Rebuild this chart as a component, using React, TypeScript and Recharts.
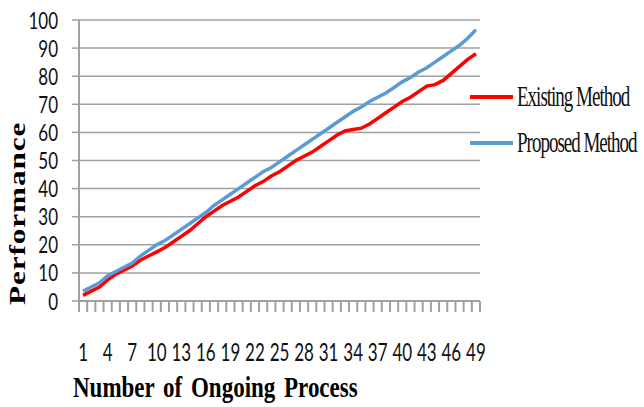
import { LineChart, Line, XAxis, YAxis, CartesianGrid, Legend, Label } from 'recharts'

// number of ongoing processes (x categories)
const PROCESS = [
  1, 2, 3, 4, 5, 6, 7, 8, 9, 10, 11, 12, 13, 14, 15, 16, 17, 18, 19, 20, 21, 22, 23, 24, 25,
  26, 27, 28, 29, 30, 31, 32, 33, 34, 35, 36, 37, 38, 39, 40, 41, 42, 43, 44, 45, 46, 47, 48, 49,
]

const EXISTING = [
  2, 3.5, 5, 7.5, 9.5, 11, 12.5, 14.5, 16, 17.5, 19, 21, 23, 25, 27.5, 30, 32, 34, 35.5, 37, 39,
  41, 42.5, 44.5, 46, 48, 50, 51.5, 53, 55, 57, 59, 60.5, 61, 61.5, 63, 65, 67, 69, 71, 72.5,
  74.5, 76.5, 77, 78.5, 81, 83.5, 86, 88,
]

const PROPOSED = [
  3.5, 5, 6.5, 9, 10.5, 12, 13.5, 16, 18, 20, 21.5, 23.5, 25.5, 27.5, 29.5, 31.5, 34, 36, 38, 40,
  42, 44, 46, 47.5, 49.5, 51.5, 53.5, 55.5, 57.5, 59.5, 61.5, 63.5, 65.5, 67.5, 69, 71, 72.5, 74,
  76, 78, 79.5, 81.5, 83, 85, 87, 89, 91, 93.5, 96.5,
]

const X_LABELS = [1, 4, 7, 10, 13, 16, 19, 22, 25, 28, 31, 34, 37, 40, 43, 46, 49]
const Y_TICKS = [0, 10, 20, 30, 40, 50, 60, 70, 80, 90, 100]

const GRID = '#a0a0a0'
const RED = '#ff0000'
const BLUE = '#5b9bd5'

const data = PROCESS.map((n, i) => ({ n, existing: EXISTING[i], proposed: PROPOSED[i] }))
// tick marks sit between categories, like Excel
const bounds = [...PROCESS.map((n) => n - 0.5), PROCESS[PROCESS.length - 1] + 0.5]

const NoTick = () => <g />

const YTick = (props: any) => {
  const { x, y, payload } = props
  return (
    <g>
      <line x1={x - 7} x2={x} y1={y} y2={y} stroke={GRID} strokeWidth={1.5} />
      <text
        transform={`translate(${x - 21},${y}) scale(1,1.4)`}
        textAnchor="end"
        dy="0.36em"
        fontFamily="Lato"
        fontSize={17}
        fill="#111"
      >
        {payload.value}
      </text>
    </g>
  )
}

const XTick = (props: any) => {
  const { x, y, payload } = props
  return (
    <text
      transform={`translate(${x},${y}) scale(1,1.5)`}
      textAnchor="middle"
      dy="0.71em"
      fontFamily="Lato"
      fontSize={17}
      fill="#111"
    >
      {payload.value}
    </text>
  )
}

const LegendBox = (props: any) => (
  <div>
    {(props.payload || []).map((e: any) => (
      <div key={e.value} style={{ display: 'flex', alignItems: 'center', height: 46 }}>
        <span style={{ width: 43, height: 4, background: e.color, display: 'inline-block' }} />
        <span
          style={{
            marginLeft: 4,
            fontFamily: 'Liberation Serif',
            fontSize: 19,
            letterSpacing: -1,
            display: 'inline-block',
            transform: 'scaleY(1.5)',
            color: '#111',
            whiteSpace: 'nowrap',
          }}
        >
          {e.value}
        </span>
      </div>
    ))}
  </div>
)

export default function App() {
  return (
    <div style={{ position: 'absolute', left: 0, top: 0, background: '#fff' }}>
      <LineChart width={644} height={407} data={data} margin={{ top: 20, right: 164, bottom: 0, left: 0 }}>
        <CartesianGrid xAxisId="b" vertical={false} stroke={GRID} strokeWidth={1.5} />
        <XAxis
          xAxisId="b"
          type="number"
          dataKey="n"
          domain={[0.5, 49.5]}
          ticks={bounds}
          interval={0}
          tick={NoTick}
          tickSize={11}
          tickMargin={0}
          height={12}
          axisLine={{ stroke: GRID, strokeWidth: 2 }}
          tickLine={{ stroke: GRID, strokeWidth: 2 }}
        />
        <XAxis
          xAxisId="lbl"
          type="number"
          dataKey="n"
          domain={[0.5, 49.5]}
          ticks={X_LABELS}
          interval={0}
          tick={XTick}
          tickSize={0}
          tickMargin={30}
          height={94}
          axisLine={false}
          tickLine={false}
        >
          <Label
            content={(p: any) => {
              const vb = p.viewBox
              return (
                <text
                  transform={`translate(${vb.x - 6},${vb.y + vb.height - 10}) scale(1,1.32)`}
                  fontFamily="Liberation Serif"
                  fontWeight="bold"
                  fontSize={23}
                  wordSpacing={3}
                  fill="#000"
                >
                  Number of Ongoing Process
                </text>
              )
            }}
          />
        </XAxis>
        <YAxis
          type="number"
          domain={[0, 100]}
          ticks={Y_TICKS}
          interval={0}
          width={79}
          tick={YTick}
          tickSize={0}
          tickMargin={0}
          axisLine={{ stroke: GRID, strokeWidth: 2 }}
          tickLine={false}
        >
          <Label
            content={(p: any) => {
              const vb = p.viewBox
              return (
                <text
                  transform={`translate(${vb.x + 25},${vb.y + vb.height + 4}) rotate(-90) scale(1.3,1)`}
                  fontFamily="Liberation Serif"
                  fontWeight="bold"
                  fontSize={24}
                  letterSpacing={0.7}
                  fill="#000"
                >
                  Performance
                </text>
              )
            }}
          />
        </YAxis>
        <Legend
          layout="vertical"
          align="center"
          verticalAlign="middle"
          content={LegendBox}
          wrapperStyle={{ left: 470, top: 74, width: 174 }}
        />
        <Line
          xAxisId="b"
          dataKey="existing"
          name="Existing Method"
          stroke={RED}
          strokeWidth={3.5}
          dot={false}
          isAnimationActive={false}
        />
        <Line
          xAxisId="b"
          dataKey="proposed"
          name="Proposed Method"
          stroke={BLUE}
          strokeWidth={3.5}
          dot={false}
          isAnimationActive={false}
        />
      </LineChart>
    </div>
  )
}
